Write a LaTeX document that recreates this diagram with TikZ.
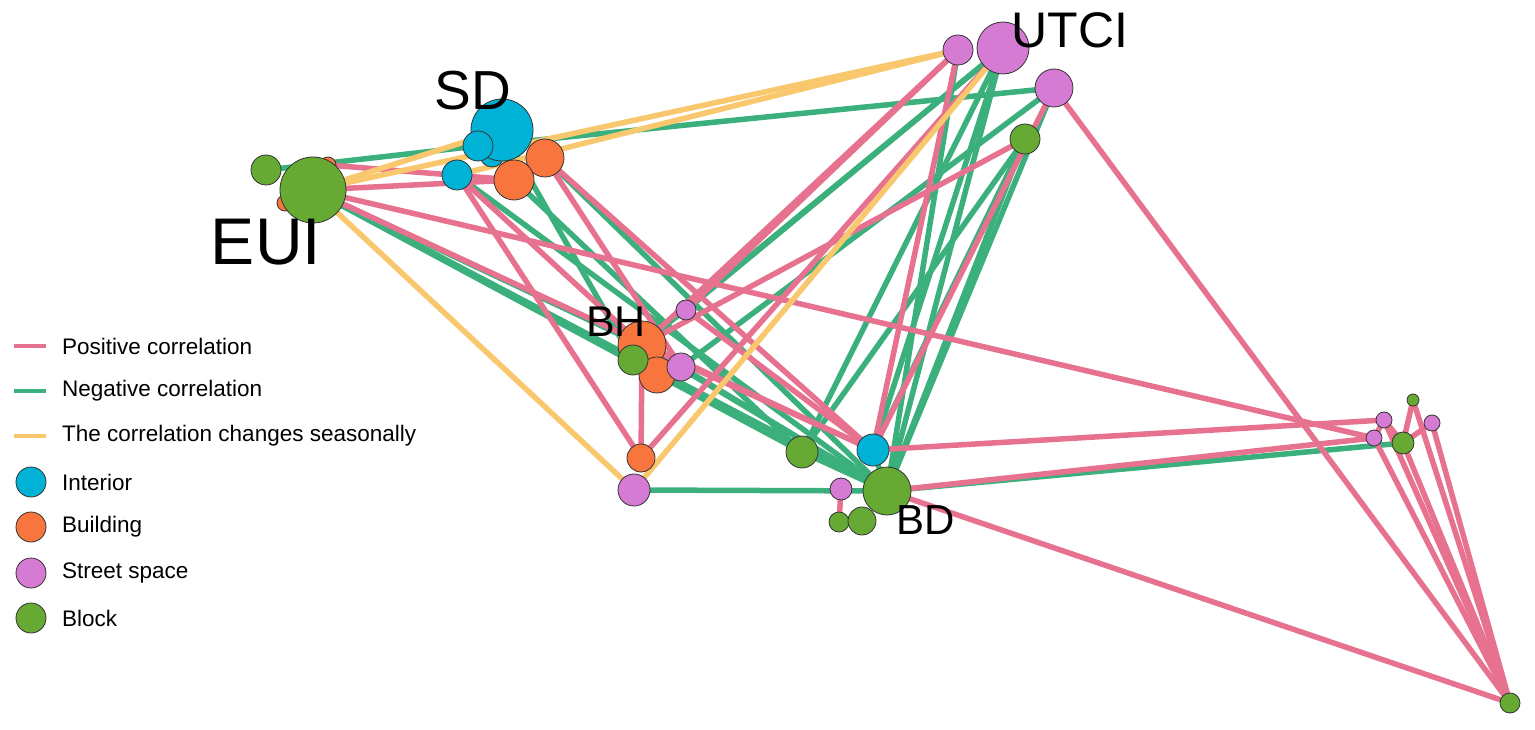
\documentclass[tikz,border=0pt]{standalone}
\usepackage{fontspec}
\setmainfont{Liberation Sans}
\definecolor{pos}{HTML}{E7728F}
\definecolor{neg}{HTML}{3BB07D}
\definecolor{sea}{HTML}{F9C76E}
\definecolor{cin}{HTML}{00B2D6}
\definecolor{cbu}{HTML}{F8763D}
\definecolor{cst}{HTML}{D57BD3}
\definecolor{cbl}{HTML}{66AA33}
\begin{document}
\begin{tikzpicture}[x=1pt,y=-1pt,
 v/.style={circle,draw=black!80,line width=0.8pt,inner sep=0pt,minimum size=#1},
 I/.style={v=#1,fill=cin}, B/.style={v=#1,fill=cbu}, S/.style={v=#1,fill=cst}, K/.style={v=#1,fill=cbl},
 p/.style={draw=pos,line width=5.5pt}, n/.style={draw=neg,line width=5.5pt}, s/.style={draw=sea,line width=5.5pt},
 lab/.style={font=\fontsize{#1}{#1}\selectfont,inner sep=0pt}]
\useasboundingbox (0,0) rectangle (1535,730);
\foreach \n/\x/\y in {eui/313/190,euis/266/170,euo1/285/203,euo2/328/165,sd/502/130,sdc1/478/146,sdc2/492/155,sdc3/457/175,sdo1/545/158,sdo2/514/180,
 ut/1003/48,utv1/958/50,utv2/1054/88,utg/1025/139,bh/642/345,bho/657/375,bhg/633/360,bhv1/681/367,bhv2/686/310,lo/641/458,lv/634/490,
 mg/802/452,mc/873/450,bd/887/491,bdv/841/489,bdg1/839/522,bdg2/862/521,rg1/1413/400,rv1/1384/420,rv2/1432/423,rv3/1374/438,rg2/1403/443,fg/1510/703}
 \coordinate (\n) at (\x,\y);
\foreach \a/\b in {euis/sdc1,eui/bh,eui/bho,eui/bd,eui/mg,sdc1/utv2,sdo1/bd,sdo2/mg,sdc3/bd,sd/bhg,ut/bh,ut/bhv2,ut/mg,ut/bd,utv1/bd,utv2/bd,utg/bd,utg/mc,utg/mg,utv2/bhv1,bh/bd,bhv1/bd,lv/bd,bd/rg2,mg/bd,mc/bd,ut/mc}
 \draw[n] (\a)--(\b);
\foreach \a/\b in {eui/sdo2,eui/rv3,eui/mc,sdc3/lo,sdc3/bh,sdo1/mc,sdo1/bhv1,utv1/bhv2,utv1/bh,utg/bh,ut/lo,utv2/fg,utv1/mc,bh/lo,bhv2/mc,bh/mc,mc/rv1,bd/fg,bd/rv3,bdv/bdg1,rg1/fg,rv1/fg,rv2/fg,rv3/fg,rg2/fg,rv1/rg2,rv2/rg2,rg1/rg2,rv3/rv1,utv2/mc,euo2/sdo2}
 \draw[p] (\a)--(\b);
\foreach \a/\b in {eui/utv1,eui/sd,eui/lv,ut/lv,sdc3/utv1}
 \draw[s] (\a)--(\b);
\node[B=16] at (euo1){}; \node[B=16] at (euo2){};
\node[K=30] (nEs) at (euis){}; \node[K=66] (nE) at (eui){};
\node[I=24] at (sdc2){}; \node[I=62] (nSD) at (sd){}; \node[I=30] at (sdc1){}; \node[I=30] at (sdc3){};
\node[B=38] at (sdo1){}; \node[B=40] at (sdo2){};
\node[S=30] at (utv1){}; \node[S=52] (nU) at (ut){}; \node[S=38] at (utv2){}; \node[K=30] at (utg){};
\node[B=48] (nBH) at (bh){}; \node[B=36] at (bho){}; \node[K=30] at (bhg){}; \node[S=28] at (bhv1){}; \node[S=20] at (bhv2){};
\node[B=28] at (lo){}; \node[S=32] at (lv){};
\node[K=32] at (mg){}; \node[I=32] at (mc){}; \node[K=48] (nBD) at (bd){}; \node[S=22] at (bdv){}; \node[K=20] at (bdg1){}; \node[K=28] at (bdg2){};
\node[K=12] at (rg1){}; \node[S=16] at (rv1){}; \node[S=16] at (rv2){}; \node[S=16] at (rv3){}; \node[K=22] at (rg2){}; \node[K=20] at (fg){};
\node[lab=66] (tEUI) at (266,242) {EUI};
\node[lab=55] (tSD) at (473,91) {SD};
\node[lab=50] (tUT) at (1070,30) {UTCI};
\node[lab=43] (tBH) at (616,322) {BH};
\node[lab=42] (tBD) at (926,520) {BD};
\foreach \c/\y/\t [count=\i] in {pos/346/Positive correlation,neg/391/Negative correlation,sea/436/The correlation changes seasonally}
 {\draw[draw=\c,line width=4.5pt] (14,\y)--(46,\y); \node[lab=22.5,anchor=west] (L\i) at (62,\y) {\t};}
\foreach \c/\y/\t [count=\i] in {cin/482/Interior,cbu/527/Building,cst/573/Street space,cbl/618/Block}
 {\node[v=30,fill=\c] (C\i) at (31,\y){}; \node[lab=22.5,anchor=west] (M\i) at (62,\y) {\t};}
\end{tikzpicture}
\end{document}
